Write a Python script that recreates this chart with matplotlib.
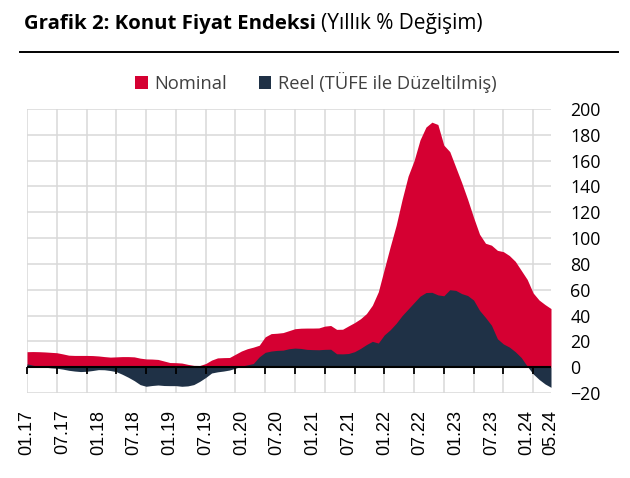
import numpy as np
import pandas as pd
import matplotlib
matplotlib.use('Agg')
import matplotlib.pyplot as plt
from matplotlib.lines import Line2D, TICKDOWN
from matplotlib.patches import Patch
from matplotlib.ticker import MultipleLocator, NullFormatter

plt.rcParams['font.family'] = ['Open Sans', 'DejaVu Sans']

# monthly data, 01.2017 - 05.2024 (annual % change)
months = pd.date_range('2017-01-01', '2024-05-01', freq='MS')
month_labels = [d.strftime('%m.%y') for d in months]

nominal = [12.0, 12.1, 12.0, 11.8, 11.5, 11.2, 10.3, 9.3, 9.1, 9.1,
           9.1, 9.0, 8.7, 8.2, 7.8, 8.0, 8.2, 8.2, 8.0, 7.0,
           6.4, 6.3, 6.0, 4.8, 3.6, 3.5, 3.2, 2.2, 1.4, 1.3,
           2.8, 5.5, 7.2, 7.4, 7.5, 10.0, 12.5, 14.3, 15.5, 17.0,
           23.5, 26.0, 26.3, 26.8, 28.3, 29.8, 30.2, 30.3, 30.3, 30.4,
           31.8, 32.3, 29.3, 29.4, 32.0, 34.5, 37.5, 41.5, 48.0, 58.4,
           76.0, 93.4, 110.0, 130.0, 148.0, 160.0, 176.0, 186.0, 189.8, 188.0,
           172.0, 167.0, 155.0, 143.0, 130.0, 116.0, 103.0, 96.0, 94.5, 90.5,
           89.5, 86.5, 82.0, 75.0, 68.0, 57.5, 52.0, 48.5, 45.4]

real = [2.6, 1.5, 0.6, 0.0, -0.5, -0.8, -1.5, -2.4, -3.0, -3.4,
        -3.2, -2.6, -1.9, -2.0, -2.6, -3.5, -5.5, -7.8, -10.4, -13.5,
        -14.8, -14.2, -13.8, -14.2, -14.3, -14.3, -14.8, -14.5, -13.5, -11.0,
        -8.0, -4.5, -3.6, -3.0, -2.2, -0.8, 0.8, 1.8, 2.8, 8.0,
        11.5, 12.5, 13.0, 13.2, 14.3, 14.8, 14.5, 13.8, 13.6, 13.5,
        13.8, 13.9, 10.4, 10.3, 10.6, 12.0, 14.5, 17.5, 20.0, 18.7,
        25.0, 29.0, 34.0, 40.0, 45.0, 50.0, 55.0, 57.8, 58.0, 56.0,
        55.3, 60.0, 59.5, 57.0, 55.5, 52.0, 44.0, 38.5, 32.5, 22.0,
        18.0, 15.6, 12.0, 7.5, 0.8, -5.2, -9.5, -13.0, -15.6]

y_ticks = list(range(-20, 201, 20))

red = '#D50032'
navy = '#1F3146'
grid_color = '#D9D9D9'

x = np.arange(len(months))

fig = plt.figure(figsize=(6.3, 4.78), dpi=100)
ax = fig.add_axes([27 / 630, 1 - 393 / 478, 524 / 630, 284 / 478])

ax.fill_between(x, 0, nominal, color=red, lw=0, zorder=2)
ax.fill_between(x, 0, real, color=navy, lw=0, zorder=3)
ax.axhline(0, color='black', lw=1.5, zorder=4)

# little category tick marks hanging from the zero line, every 5 months
tick_x = x[::5]
ax.plot(tick_x, np.zeros(len(tick_x)), ls='none', marker=TICKDOWN,
        ms=4.8, mew=1.3, color='black', zorder=4, clip_on=False)

ax.set_xlim(0, len(months) - 1)
ax.set_ylim(-20, 200)

for s in ax.spines.values():
    s.set_visible(False)

# y axis on the right, horizontal grid every 20
ax.set_yticks(y_ticks)
ax.yaxis.tick_right()
ax.tick_params(axis='y', length=0, pad=14, labelsize=12.8)
ax.grid(axis='y', color=grid_color, lw=1.1)

# vertical grid every 5 months
ax.xaxis.set_major_locator(MultipleLocator(5))
ax.xaxis.set_major_formatter(NullFormatter())
ax.tick_params(axis='x', length=0)
ax.grid(axis='x', color=grid_color, lw=1.1)

# date labels every 6 months + last month, under the plot
lab_pos = list(range(0, len(months), 6)) + [len(months) - 1]
sec = ax.secondary_xaxis('bottom')
sec.set_xticks(lab_pos)
sec.set_xticklabels([month_labels[i] for i in lab_pos], rotation=90,
                    family='Liberation Sans', fontsize=13)
sec.tick_params(axis='x', length=0, pad=12)
sec.spines['bottom'].set_visible(False)

# title
t1 = fig.text(24 / 630, 1 - 29 / 478, 'Grafik 2: Konut Fiyat Endeksi',
              fontsize=14.7, fontweight='bold', va='baseline', ha='left')
fig.canvas.draw()
bb = t1.get_window_extent()
fig.text(bb.x1 / 630 + 5 / 630, 1 - 29 / 478, '(Yıllık % Değişim)',
         fontsize=15, va='baseline', ha='left')
fig.add_artist(Line2D([20 / 630, 618 / 630], [1 - 51.5 / 478] * 2,
                      color='black', lw=1.4))

# legend
handles = [Patch(facecolor=red, edgecolor='none', label='Nominal'),
           Patch(facecolor=navy, edgecolor='none', label='Reel (TÜFE ile Düzeltilmiş)')]
fig.legend(handles=handles, loc='center', bbox_to_anchor=(316 / 630, 1 - 82 / 478),
           ncol=2, frameon=False, fontsize=13.2, handlelength=0.7, handleheight=0.7,
           handletextpad=0.35, columnspacing=1.7, labelcolor='#404040')

fig.savefig('out.png', dpi=100)
